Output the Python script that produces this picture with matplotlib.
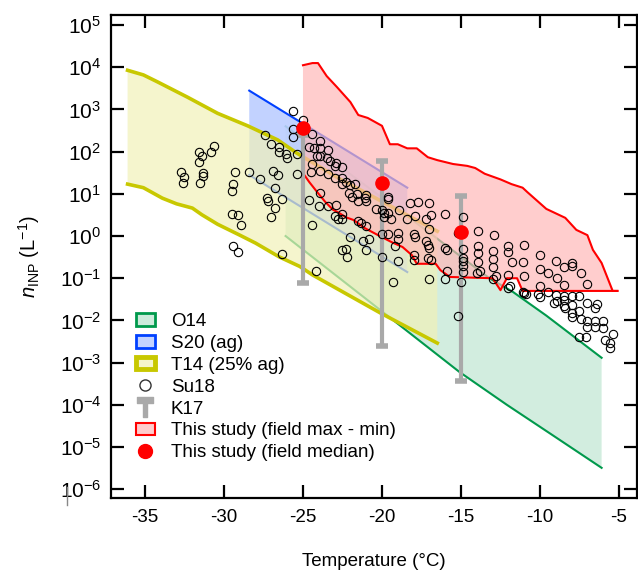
import numpy as np
import matplotlib
matplotlib.use("Agg")
import matplotlib.pyplot as plt
from matplotlib.patches import Patch
from matplotlib.lines import Line2D
from matplotlib.path import Path
from matplotlib.ticker import FuncFormatter

plt.rcParams['font.family'] = ['Liberation Sans', 'DejaVu Sans']
plt.rcParams['mathtext.fontset'] = 'custom'
plt.rcParams['mathtext.rm'] = 'Liberation Sans'
plt.rcParams['mathtext.it'] = 'Liberation Sans:italic'
plt.rcParams['axes.unicode_minus'] = False

#------------ data ------------
# T14 (25% ag) band
t14_t_up = [-36.1, -35.1, -34.2, -32.3, -30.4, -28.5, -26.6, -25.4, -22.7, -16.5]
t14_n_up = [8500, 6600, 4500, 1950, 810, 410, 190, 93, 23, 1.3]
t14_t_lo = [-36.1, -35.1, -33.9, -33.0, -32.0, -31.4, -30.4, -29.0, -28.0,
            -26.5, -25.2, -24.4, -20.1, -16.5]
t14_n_lo = [17, 14, 7.9, 5.8, 4.6, 3.2, 1.9, 1.05, 0.68, 0.32, 0.19, 0.12,
            0.015, 0.0029]

# S20 (ag) band
s20_t = [-28.4, -18.4]
s20_n_up = [2800, 14]
s20_n_lo = [28, 0.14]

# O14 band
o14_t_up = [-26.1, -17.0, -13.2, -11.7, -9.6, -6.1]
o14_n_up = [400, 1.2, 0.10, 0.047, 0.013, 0.0013]
o14_t_lo = [-26.1, -18.9, -15.1, -12.1, -9.2, -6.1]
o14_n_lo = [1.0, 0.0078, 6.0e-4, 1.0e-4, 1.9e-5, 3.2e-6]

# This study, field max - min
red_t_up = [-25.0, -24.4, -24.05, -23.5, -22.85, -22.0, -21.5, -20.9, -20.0,
            -19.5, -19.0, -18.4, -17.8, -17.1, -16.5, -15.5, -14.6, -14.1,
            -13.5, -12.5, -11.8, -11.1, -10.8, -9.6, -8.4, -7.7, -7.0, -6.65,
            -6.1, -5.4, -5.1]
red_n_up = [11200, 12600, 12600, 6200, 3400, 1500, 740, 630, 410, 150, 150,
            120, 120, 74, 63, 51, 46, 41, 30, 22, 17, 14, 11, 4.4, 2.7, 1.4,
            1.05, 0.47, 0.23, 0.050, 0.050]
red_t_lo = [-25.0, -24.6, -24.1, -23.6, -23.1, -22.7, -22.3, -21.8, -21.1,
            -20.25, -19.4, -18.7, -18.1, -17.8, -16.6, -16.3, -15.7, -13.0,
            -12.5, -12.1, -11.45, -11.1, -5.1]
red_n_lo = [31, 19, 11, 6.5, 4.2, 3.5, 2.8, 2.4, 1.55, 1.05, 0.72, 0.55, 0.35,
            0.22, 0.22, 0.155, 0.107, 0.10, 0.052, 0.10, 0.10, 0.050, 0.050]

# This study, field median
med_t = [-25, -20, -15]
med_n = [360, 18, 1.25]

# K17 ranges
k17_t = [-25, -20, -15]
k17_hi = [245, 60, 8.9]
k17_lo = [0.078, 0.0025, 3.6e-4]

# Su18 points
su18_t = [-30.6, -31.6, -31.4, -30.8, -31.6, -32.7, -32.5, -32.6, -31.3, -31.3,
          -31.5, -29.3, -28.4, -29.4, -29.5, -29.5, -29.1, -28.9, -29.4, -29.1,
          -25.6, -25.0, -25.6, -25.6, -27.4, -27.0, -26.5, -26.5, -26.1, -26.0,
          -25.4, -24.4, -23.9, -24.6, -24.3, -23.9, -23.4, -24.1, -23.9, -23.5,
          -23.3, -22.9, -24.4, -23.9, -23.4, -23.0, -24.5, -25.4, -26.9, -26.6,
          -27.7, -26.8, -27.3, -27.2, -26.3, -26.8, -27.0, -24.6, -23.9, -24.0,
          -23.4, -22.9, -23.0, -22.8, -24.4, -22.5, -26.3, -24.2, -22.5, -23.0,
          -22.5, -22.5, -22.3, -22.0, -21.7, -22.1, -21.9, -21.6, -21.5, -21.0,
          -21.0, -21.1, -20.4, -20.0, -19.9, -19.9, -19.6, -19.6, -19.6, -19.4,
          -18.9, -18.2, -17.7, -17.0, -17.9, -18.4, -17.2, -17.0, -22.5, -22.5,
          -21.5, -21.3, -21.0, -22.0, -21.2, -20.8, -21.0, -22.3, -22.2, -20.0,
          -19.6, -19.0, -19.0, -19.2, -18.0, -17.9, -17.2, -17.1, -17.0, -18.0,
          -18.0, -17.1, -16.9, -20.0, -19.0, -19.3, -17.0,
          -16.0, -14.9, -13.9, -12.9, -15.2, -16.0, -15.9, -14.9, -14.9, -14.9,
          -13.9, -13.9, -13.9, -13.0, -13.0, -13.0, -12.0, -12.0, -11.8, -15.9,
          -14.9, -14.9, -14.0, -13.8, -16.0, -15.0, -13.0, -12.0, -11.9, -12.0,
          -11.1, -12.8, -15.2, -16.9,
          -11.0, -10.0, -11.1, -10.0, -9.5, -9.0, -8.5, -8.0, -8.0, -7.4,
          -8.9, -8.5, -7.0, -11.0, -10.0, -11.0, -10.9, -10.1, -10.0, -9.5,
          -9.0, -8.5, -8.0, -7.5, -8.9, -9.1, -8.5, -8.5, -8.4, -8.0,
          -7.0, -6.4, -6.5, -8.0, -8.0, -7.5, -7.4, -7.0, -6.5, -6.0,
          -7.0, -6.5, -6.0, -5.4, -5.9, -5.6, -5.6, -7.5, -7.1]
su18_n = [135, 98, 79, 98, 57, 33, 25, 18, 31, 26,
          18, 33, 33, 17, 12, 3.3, 3.1, 1.8, 0.58, 0.42,
          910, 560, 340, 220, 250, 150, 130, 100, 88, 71,
          88, 260, 180, 130, 125, 120, 110, 79, 79, 71,
          60, 54, 51, 35, 29, 46, 33, 29, 35, 28,
          22, 14, 7.9, 6.7, 7.5, 4.6, 2.8, 7.1, 10.5, 5.1,
          5.1, 5.4, 3.0, 2.5, 1.8, 0.47, 0.37, 0.15, 24, 24,
          43, 17, 19, 16, 17, 10.5, 8.4, 9.9, 6.7, 9.4,
          6.7, 7.9, 4.4, 4.1, 3.5, 2.8, 7.5, 8.4, 3.5, 2.5,
          4.1, 6.1, 6.4, 6.1, 3.0, 2.5, 2.5, 1.5, 3.3, 2.5,
          2.3, 2.0, 1.7, 0.95, 0.76, 0.85, 0.47, 0.49, 0.32, 1.1,
          1.1, 1.2, 0.85, 0.58, 1.1, 0.95, 0.76, 0.61, 0.52, 0.35,
          0.27, 0.30, 0.27, 0.32, 0.26, 0.081, 0.095,
          3.3, 2.8, 1.3, 1.06, 1.2, 0.52, 0.46, 0.49, 0.30, 0.26,
          0.58, 0.40, 0.24, 0.44, 0.29, 0.18, 0.58, 0.42, 0.24, 0.15,
          0.19, 0.14, 0.13, 0.15, 0.095, 0.081, 0.095, 0.12, 0.065, 0.059,
          0.047, 0.11, 0.013, 3.1,
          0.61, 0.35, 0.24, 0.17, 0.13, 0.26, 0.18, 0.23, 0.19, 0.13,
          0.10, 0.069, 0.073, 0.11, 0.065, 0.045, 0.042, 0.042, 0.036, 0.047,
          0.040, 0.038, 0.038, 0.038, 0.029, 0.026, 0.030, 0.022, 0.020, 0.023,
          0.026, 0.024, 0.020, 0.015, 0.012, 0.017, 0.011, 0.0097, 0.0097, 0.0097,
          0.0070, 0.0070, 0.0066, 0.0048, 0.0034, 0.0029, 0.0022, 0.0040, 0.0040]

green, green_f = '#00994c', '#cdebdc'
blue, blue_f = '#0040ff', '#bccdff'
yel, yel_f = '#c8c800', '#f1f1b8'
red, red_f = '#ff0000', '#ffb8b8'
gray = '#a9a9a9'

def band(ax, tu, nu, tl, nl, fc, alpha, z):
    xs = list(tu) + list(tl)[::-1]
    ys = list(nu) + list(nl)[::-1]
    ax.fill(xs, ys, facecolor=fc, edgecolor='none', alpha=alpha, zorder=z)

#------------  figure -----------------------
fig = plt.figure(figsize=(6.38, 5.71), dpi=100)
ax = fig.add_axes([111/638, 73/571, 526/638, 483/571])
ax.set_yscale('log')

# O14
band(ax, o14_t_up, o14_n_up, o14_t_lo, o14_n_lo, green_f, 0.9, 1)
ax.plot(o14_t_up, o14_n_up, color=green, lw=1.5, zorder=1.1)
ax.plot(o14_t_lo, o14_n_lo, color=green, lw=1.5, zorder=1.1)
# S20
band(ax, s20_t, s20_n_up, s20_t, s20_n_lo, blue_f, 0.9, 2)
ax.plot(s20_t, s20_n_up, color=blue, lw=1.5, zorder=2.1)
ax.plot(s20_t, s20_n_lo, color=blue, lw=1.5, zorder=2.1)
# T14
band(ax, t14_t_up, t14_n_up, t14_t_lo, t14_n_lo, yel_f, 0.7, 3)
ax.plot(t14_t_up, t14_n_up, color=yel, lw=2.6, zorder=3.1)
ax.plot(t14_t_lo, t14_n_lo, color=yel, lw=2.6, zorder=3.1)
# this study
band(ax, red_t_up, red_n_up, red_t_lo, red_n_lo, red_f, 0.7, 4)
ax.plot(red_t_up, red_n_up, color=red, lw=1.5, zorder=4.1)
ax.plot(red_t_lo, red_n_lo, color=red, lw=1.5, zorder=4.1)

# K17
k_lo = np.array(k17_lo)
k_hi = np.array(k17_hi)
ax.errorbar(k17_t, k_lo, yerr=[np.zeros(3), k_hi - k_lo], fmt='none',
            ecolor=gray, elinewidth=3, capsize=4.5, capthick=4, zorder=6)
# Su18
ax.plot(su18_t, su18_n, 'o', mfc='none', mec='black', mew=0.8, ms=6, zorder=7)
# medians
ax.plot(med_t, med_n, 'o', color=red, ms=9.5, zorder=8)

ax.set_xlim(-37.15, -3.86)
ax.set_ylim(10**-6.21, 10**5.24)
ax.set_xticks([-35, -30, -25, -20, -15, -10, -5])
ax.set_yticks([10.0**k for k in range(-6, 6)])
ax.yaxis.set_major_formatter(FuncFormatter(lambda v, p: '10$^{%d}$' % round(np.log10(v))))
ax.minorticks_off()
ax.tick_params(direction='in', length=9.5, width=1.6, labelsize=13.5,
               top=True, right=True, pad=8)
ax.tick_params(axis='y', labelsize=15, pad=7)
for s in ax.spines.values():
    s.set_linewidth(1.6)

ax.set_xlabel('Temperature (°C)', fontsize=13.5, labelpad=19)
ax.set_ylabel(r'$n_{\mathrm{INP}}$ (L$^{-1}$)', fontsize=14.5, labelpad=13)

# legend
tpath = Path([(-0.5, 0.6), (0.5, 0.6), (0.5, 0.25), (0.13, 0.25), (0.13, -0.6),
              (-0.13, -0.6), (-0.13, 0.25), (-0.5, 0.25), (-0.5, 0.6)], closed=True)
handles = [
    Patch(facecolor=green_f, edgecolor=green, lw=2),
    Patch(facecolor='#c4d3ff', edgecolor=blue, lw=2),
    Patch(facecolor='#f5f5cc', edgecolor=yel, lw=3.5),
    Line2D([], [], ls='none', marker='o', mfc='none', mec='#333333', ms=8, mew=1),
    Line2D([], [], ls='none', marker=tpath, color=gray, ms=14),
    Patch(facecolor='#ffcccc', edgecolor=red, lw=1.5),
    Line2D([], [], ls='none', marker='o', color=red, ms=10),
]
labels = ['O14', 'S20 (ag)', 'T14 (25% ag)', 'Su18', 'K17',
          'This study (field max - min)', 'This study (field median)']
ax.legend(handles, labels, loc='upper left', bbox_to_anchor=(136/638, 1 - 313/571),
          bbox_transform=fig.transFigure, frameon=False, fontsize=13.5,
          handlelength=1.0, handleheight=0.65, handletextpad=0.85,
          labelspacing=0.26, borderpad=0, borderaxespad=0)

fig.add_artist(Line2D([67/638, 67/638], [1 - 487/571, 1 - 505/571],
                      color='#888888', lw=1))

fig.savefig('out.png', dpi=100)
